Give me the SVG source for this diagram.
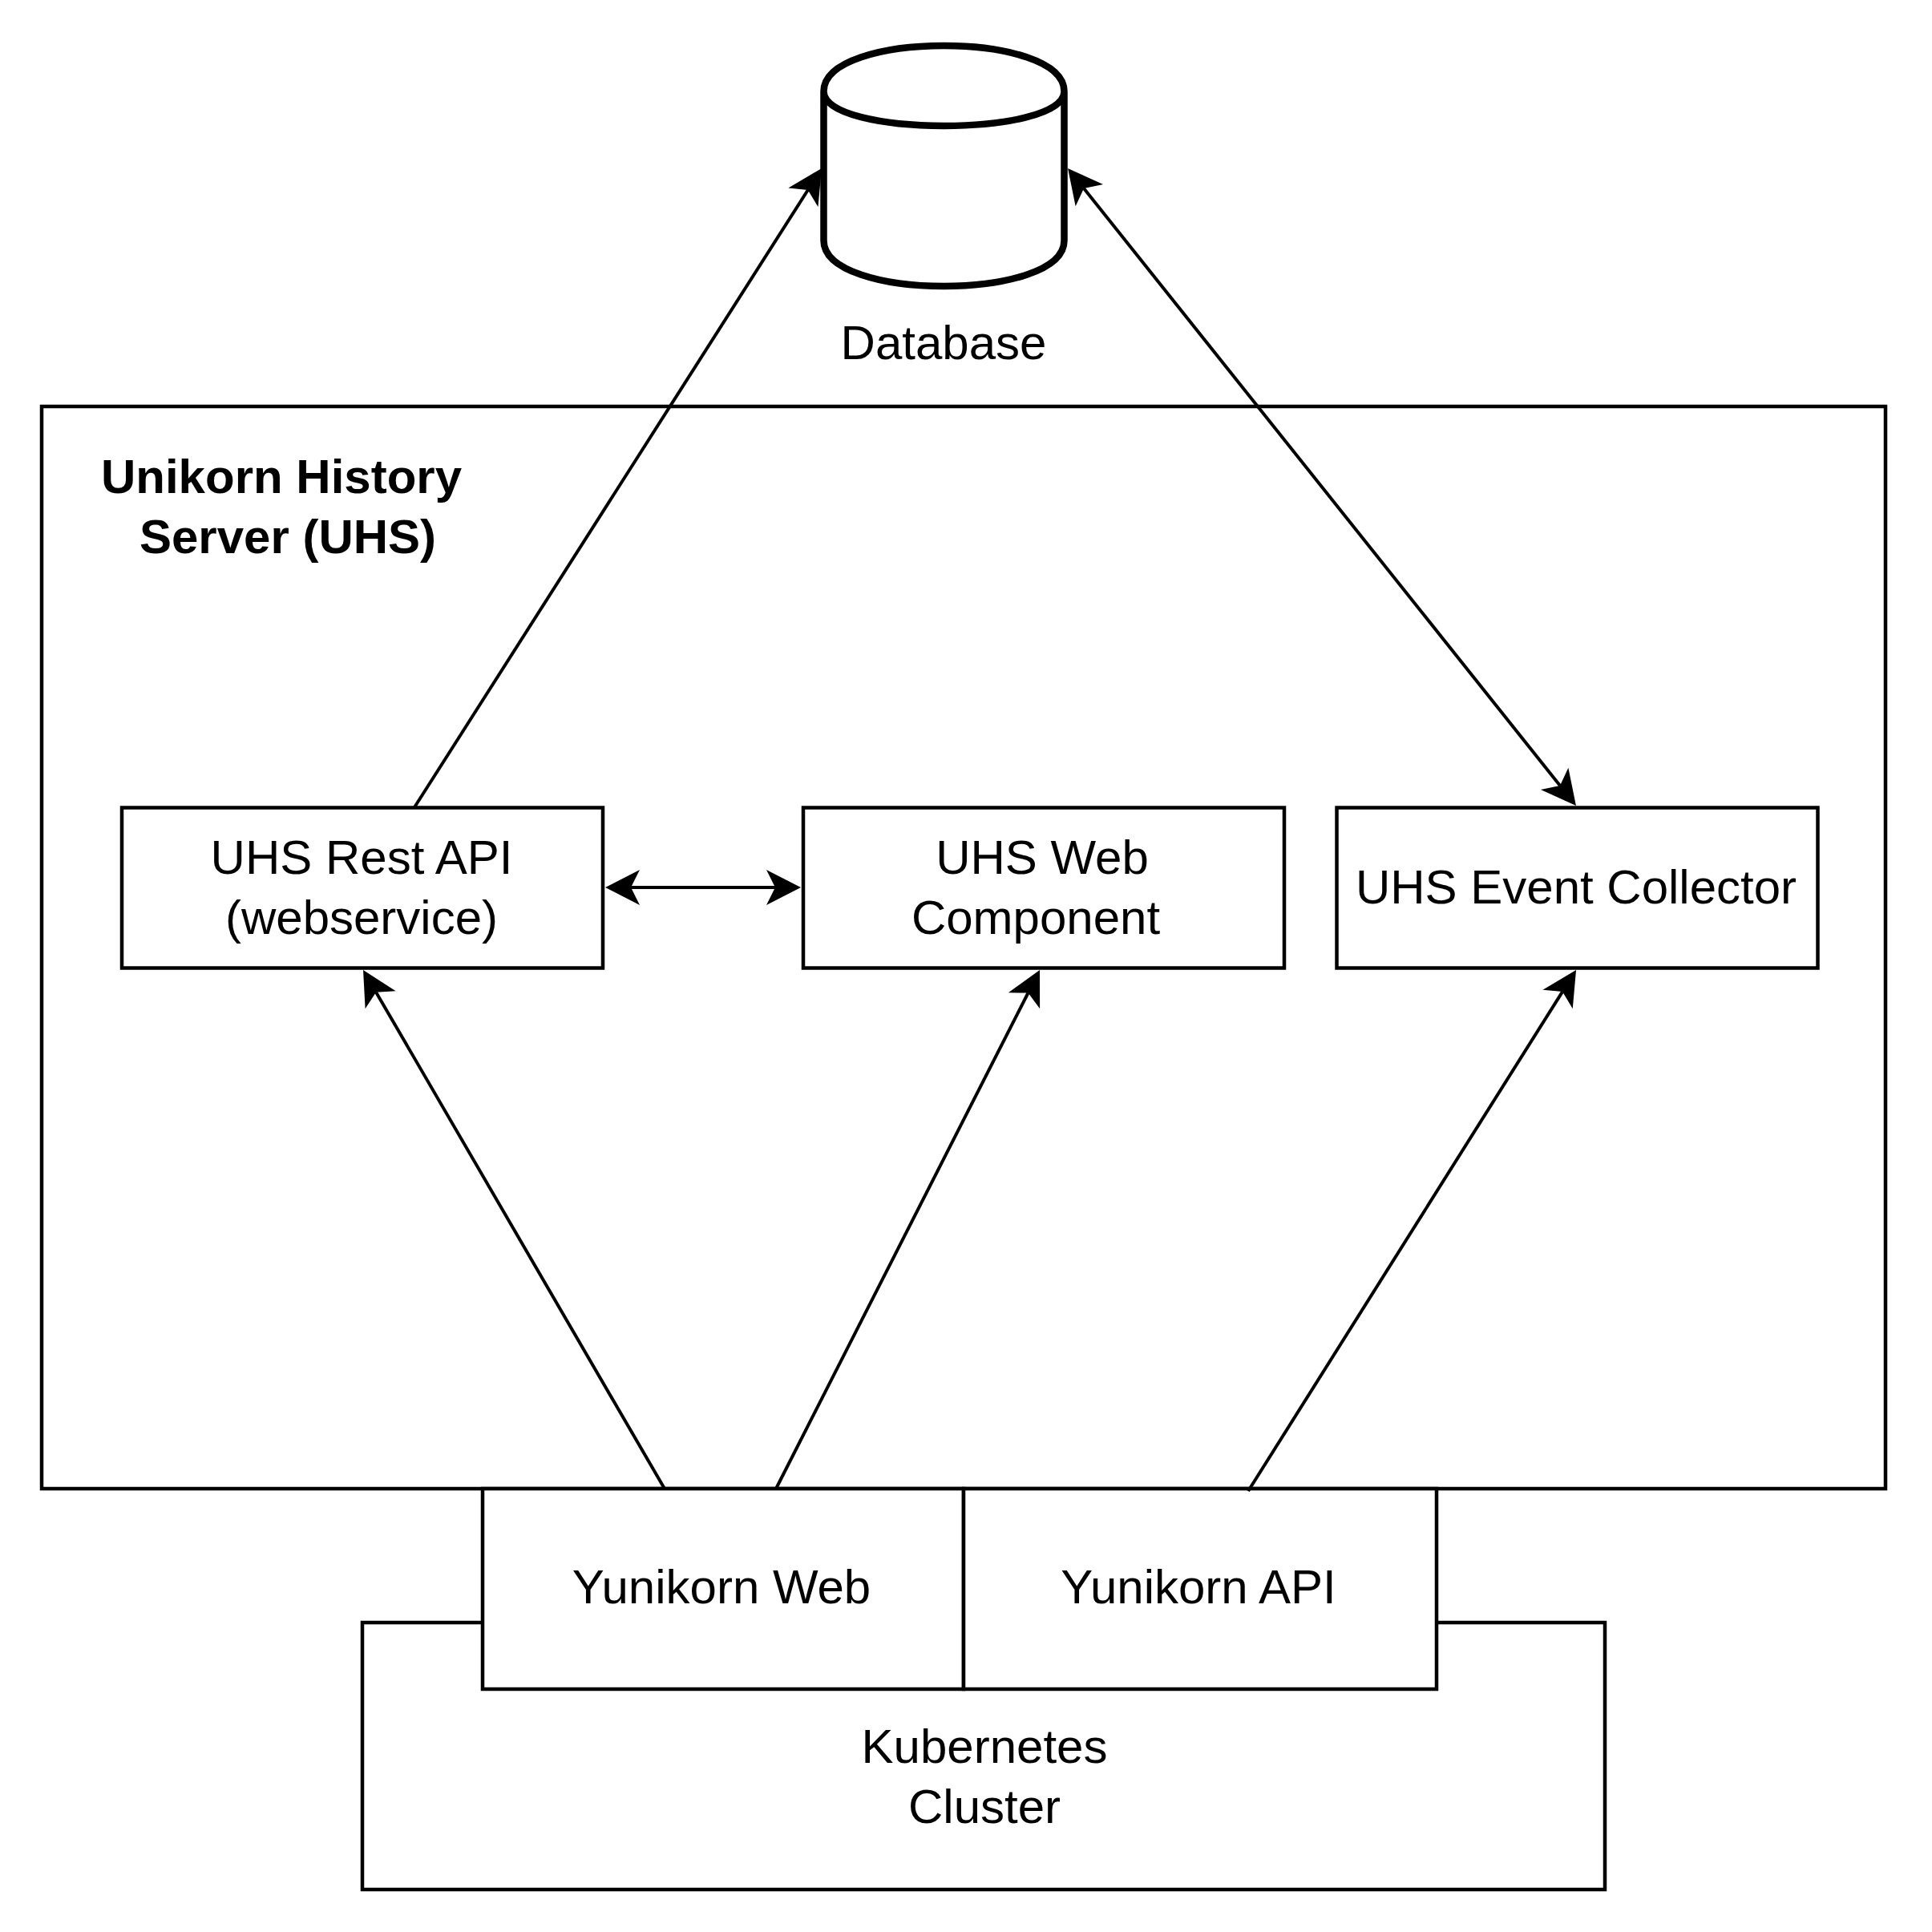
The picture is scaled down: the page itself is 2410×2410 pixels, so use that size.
<svg xmlns="http://www.w3.org/2000/svg" width="2410" height="2410" viewBox="0 0 2410 2410">
<style>
.box{fill:#fff;stroke:#000;stroke-width:4.5}
.cyl{fill:#fff;stroke:#000;stroke-width:8.5}
.lbl{font-family:"Liberation Sans",Arial,Helvetica,sans-serif;font-size:60px;fill:#000;text-anchor:middle}
.title{font-weight:bold}
.edge{fill:none;stroke:#000;stroke-width:4}
</style>
<defs>
<marker id="arr" markerUnits="userSpaceOnUse" viewBox="-15 -25 50 50" markerWidth="50" markerHeight="50" refX="0" refY="0" orient="auto-start-reverse" overflow="visible">
<path d="M32,0 L-11,-22 L0,0 L-11,22 Z" fill="#000"/>
</marker>
</defs>
<rect width="2410" height="2410" fill="#fff"/>
<g id="uhs">
<rect class="box" x="52" y="507" width="2300" height="1350"/>
<text class="lbl title" x="351" y="615">Unikorn History</text>
<text class="lbl title" x="359" y="690">Server (UHS)</text>
</g>
<g id="kubernetes">
<rect class="box" x="452" y="2024" width="1550" height="333"/>
<text class="lbl" x="1228" y="2199">Kubernetes</text>
<text class="lbl" x="1228" y="2274">Cluster</text>
</g>
<g id="yunikorn-web">
<rect class="box" x="602" y="1857" width="600" height="250"/>
<text class="lbl" x="900" y="2000">Yunikorn Web</text>
</g>
<g id="yunikorn-api">
<rect class="box" x="1202" y="1857" width="590" height="250"/>
<text class="lbl" x="1495" y="2000">Yunikorn API</text>
</g>
<g id="database">
<path class="cyl" d="M1027.5,114.1 C1027.5,38 1327.5,38 1327.5,114.1 L1327.5,299.9 C1327.5,376 1027.5,376 1027.5,299.9 Z M1027.5,114.1 C1027.5,171.2 1327.5,171.2 1327.5,114.1"/>
<text class="lbl" x="1177" y="448">Database</text>
</g>
<g id="rest-api">
<rect class="box" x="152" y="1007.5" width="600" height="200"/>
<text class="lbl" x="451" y="1090">UHS Rest API</text>
<text class="lbl" x="451" y="1165">(webservice)</text>
</g>
<g id="web-component">
<rect class="box" x="1002" y="1007.5" width="600" height="200"/>
<text class="lbl" x="1300" y="1090">UHS Web</text>
<text class="lbl" x="1292" y="1165">Component</text>
</g>
<g id="event-collector">
<rect class="box" x="1667.5" y="1007.5" width="600" height="200"/>
<text class="lbl" x="1966" y="1127">UHS Event Collector</text>
</g>
<g id="connectors">
<path class="edge" d="M517,1007 L1007.8,237" marker-end="url(#arr)"/>
<path class="edge" d="M787,1107 L967,1107" marker-start="url(#arr)" marker-end="url(#arr)"/>
<path class="edge" d="M1352,235 L1946,980" marker-start="url(#arr)" marker-end="url(#arr)"/>
<path class="edge" d="M829,1857 L469.1,1237.7" marker-end="url(#arr)"/>
<path class="edge" d="M968,1857 L1282.5,1238.5" marker-end="url(#arr)"/>
<path class="edge" d="M1557,1860 L1949,1237.1" marker-end="url(#arr)"/>
</g>
</svg>
